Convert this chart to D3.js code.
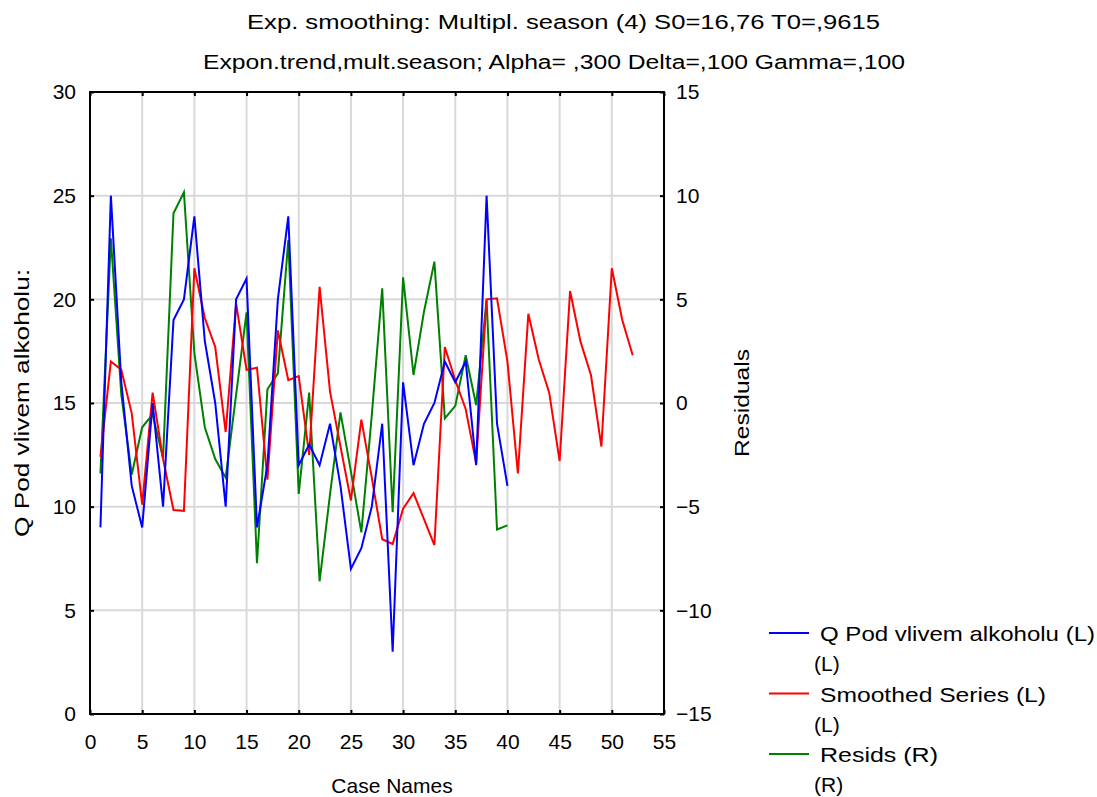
<!DOCTYPE html>
<html>
<head>
<meta charset="utf-8">
<script src="https://cdn.jsdelivr.net/npm/d3@7"></script>
<style>
  body { margin: 0; background: #fff; }
  svg { display: block; }
  text { font-family: "Liberation Sans", Arial, sans-serif; fill: #000; }
</style>
</head>
<body>
<svg id="chart" width="1097" height="797"></svg>
<script>
// ---------- data ----------
const titleLines = [
  "Exp. smoothing: Multipl. season (4) S0=16,76 T0=,9615",
  "Expon.trend,mult.season; Alpha=  ,300 Delta=,100 Gamma=,100"
];
const xTicks = [0, 5, 10, 15, 20, 25, 30, 35, 40, 45, 50, 55];
const yLeftTicks = [0, 5, 10, 15, 20, 25, 30];
const yRightTicks = [-15, -10, -5, 0, 5, 10, 15];

const observed = [9, 25, 16, 11, 9, 15, 10, 19, 20, 24, 18, 15, 10, 20, 21, 9, 12, 20, 24, 12,
                  13, 12, 14, 11, 7, 8, 10, 14, 3, 16, 12, 14, 15, 17, 16, 17, 12, 25, 14, 11];
const smoothed = [12.4, 17.0, 16.6, 14.5, 10.1, 15.5, 12.3, 9.84, 9.8, 21.5, 19.1, 17.7, 13.6, 19.8, 16.6, 16.7,
                  11.3, 18.5, 16.1, 16.3, 12.5, 20.6, 15.55, 12.9, 10.3, 14.2, 11.4, 8.43, 8.2, 9.9, 10.65, 9.4,
                  8.15, 17.7, 16.1, 14.7, 12.1, 20.0, 20.05, 17.0, 11.6, 19.3, 17.1, 15.5, 12.2, 20.4, 17.96, 16.35,
                  12.9, 21.5, 19.0, 17.3];
const resids = [-3.4, 7.94, 0.4, -3.45, -1.17, -0.55, -2.67, 9.15, 10.16, 2.4, -1.17, -2.7, -3.6, 0.4, 4.37, -7.73,
                0.66, 1.43, 7.86, -4.39, 0.5, -8.6, -4.4, -0.45, -3.3, -6.24, -0.6, 5.53, -5.27, 6.06, 1.35, 4.4,
                6.82, -0.74, -0.14, 2.3, -0.1, 4.97, -6.1, -5.9];

const seriesNames = ["Q Pod vlivem alkoholu (L)", "Smoothed Series (L)", "Resids (R)"];
const seriesSub = ["(L)", "(L)", "(R)"];
const seriesColors = ["#0000ff", "#ff0000", "#008000"];

// ---------- layout ----------
const svg = d3.select("#chart");
const L = 90, R = 664, T = 92, B = 714;

const x = d3.scaleLinear().domain([0, 55]).range([L, R]);
const yL = d3.scaleLinear().domain([0, 30]).range([B, T]);
const yR = d3.scaleLinear().domain([-15, 15]).range([B, T]);

// gridlines
const grid = svg.append("g");
grid.selectAll("line.gx").data(xTicks.slice(1, -1)).enter().append("line")
  .attr("x1", d => x(d)).attr("x2", d => x(d)).attr("y1", T).attr("y2", B)
  .attr("stroke", "#d9d9d9").attr("stroke-width", 2);
grid.selectAll("line.gy").data(yLeftTicks.slice(1, -1)).enter().append("line")
  .attr("y1", d => yL(d)).attr("y2", d => yL(d)).attr("x1", L).attr("x2", R)
  .attr("stroke", "#d9d9d9").attr("stroke-width", 2);

// axes (ticks inside)
function styleAxis(g) {
  g.select(".domain").remove();
  g.selectAll(".tick line").attr("stroke", "#000").attr("stroke-width", 2);
  g.selectAll(".tick text").style("font-size", "21px").style("font-family", "Liberation Sans, Arial, sans-serif");
}
svg.append("g").attr("transform", `translate(0,${B})`)
  .call(d3.axisBottom(x).tickValues(xTicks).tickSize(-4).tickPadding(20).tickFormat(d3.format("d")))
  .call(styleAxis);
svg.append("g").attr("transform", `translate(0,${T})`)
  .call(d3.axisTop(x).tickValues(xTicks).tickSize(-4).tickFormat(""))
  .call(styleAxis);
svg.append("g").attr("transform", `translate(${L},0)`)
  .call(d3.axisLeft(yL).tickValues(yLeftTicks).tickSize(-4).tickPadding(14).tickFormat(d3.format("d")))
  .call(styleAxis);
svg.append("g").attr("transform", `translate(${R},0)`)
  .call(d3.axisRight(yR).tickValues(yRightTicks).tickSize(-4).tickPadding(12).tickFormat(d3.format("d")))
  .call(styleAxis);

// series lines
svg.append("clipPath").attr("id", "clip").append("rect")
  .attr("x", L).attr("y", T).attr("width", R - L).attr("height", B - T);
const plot = svg.append("g").attr("clip-path", "url(#clip)");
const lineL = d3.line().x((d, i) => x(i + 1)).y(d => yL(d));
const lineR = d3.line().x((d, i) => x(i + 1)).y(d => yR(d));
plot.append("path").datum(resids).attr("d", lineR).attr("fill", "none")
  .attr("stroke", seriesColors[2]).attr("stroke-width", 2);
plot.append("path").datum(smoothed).attr("d", lineL).attr("fill", "none")
  .attr("stroke", seriesColors[1]).attr("stroke-width", 2);
plot.append("path").datum(observed).attr("d", lineL).attr("fill", "none")
  .attr("stroke", seriesColors[0]).attr("stroke-width", 2);

// frame
svg.append("rect").attr("x", L).attr("y", T).attr("width", R - L).attr("height", B - T)
  .attr("fill", "none").attr("stroke", "#000").attr("stroke-width", 2);

// titles
svg.append("text").attr("x", 247).attr("y", 29).style("font-size", "20px")
  .attr("textLength", 633).attr("lengthAdjust", "spacingAndGlyphs").text(titleLines[0]);
svg.append("text").attr("x", 203).attr("y", 69).style("font-size", "20px")
  .attr("textLength", 702).attr("lengthAdjust", "spacingAndGlyphs").text(titleLines[1]);

// axis titles
svg.append("text").attr("x", 392).attr("y", 793).attr("text-anchor", "middle").style("font-size", "21px")
  .text("Case Names");
svg.append("text").attr("transform", `translate(29,${(T + B) / 2}) rotate(-90)`).attr("text-anchor", "middle")
  .style("font-size", "20px").attr("textLength", 268).attr("lengthAdjust", "spacingAndGlyphs")
  .text("Q Pod vlivem alkoholu:");
svg.append("text").attr("transform", `translate(749,${(T + B) / 2}) rotate(-90)`).attr("text-anchor", "middle")
  .style("font-size", "21px").attr("textLength", 108).attr("lengthAdjust", "spacingAndGlyphs")
  .text("Residuals");

// legend
const legendWidths = [275, 226, 118];
const lg = svg.append("g");
seriesNames.forEach((name, i) => {
  const yc = 633 + i * 60.5;
  lg.append("line").attr("x1", 769).attr("x2", 809).attr("y1", yc).attr("y2", yc)
    .attr("stroke", seriesColors[i]).attr("stroke-width", 2);
  lg.append("text").attr("x", 820).attr("y", yc + 8).style("font-size", "21px")
    .attr("textLength", legendWidths[i]).attr("lengthAdjust", "spacingAndGlyphs").text(name);
  lg.append("text").attr("x", 814).attr("y", yc + 38).style("font-size", "21px").text(seriesSub[i]);
});
</script>
</body>
</html>
